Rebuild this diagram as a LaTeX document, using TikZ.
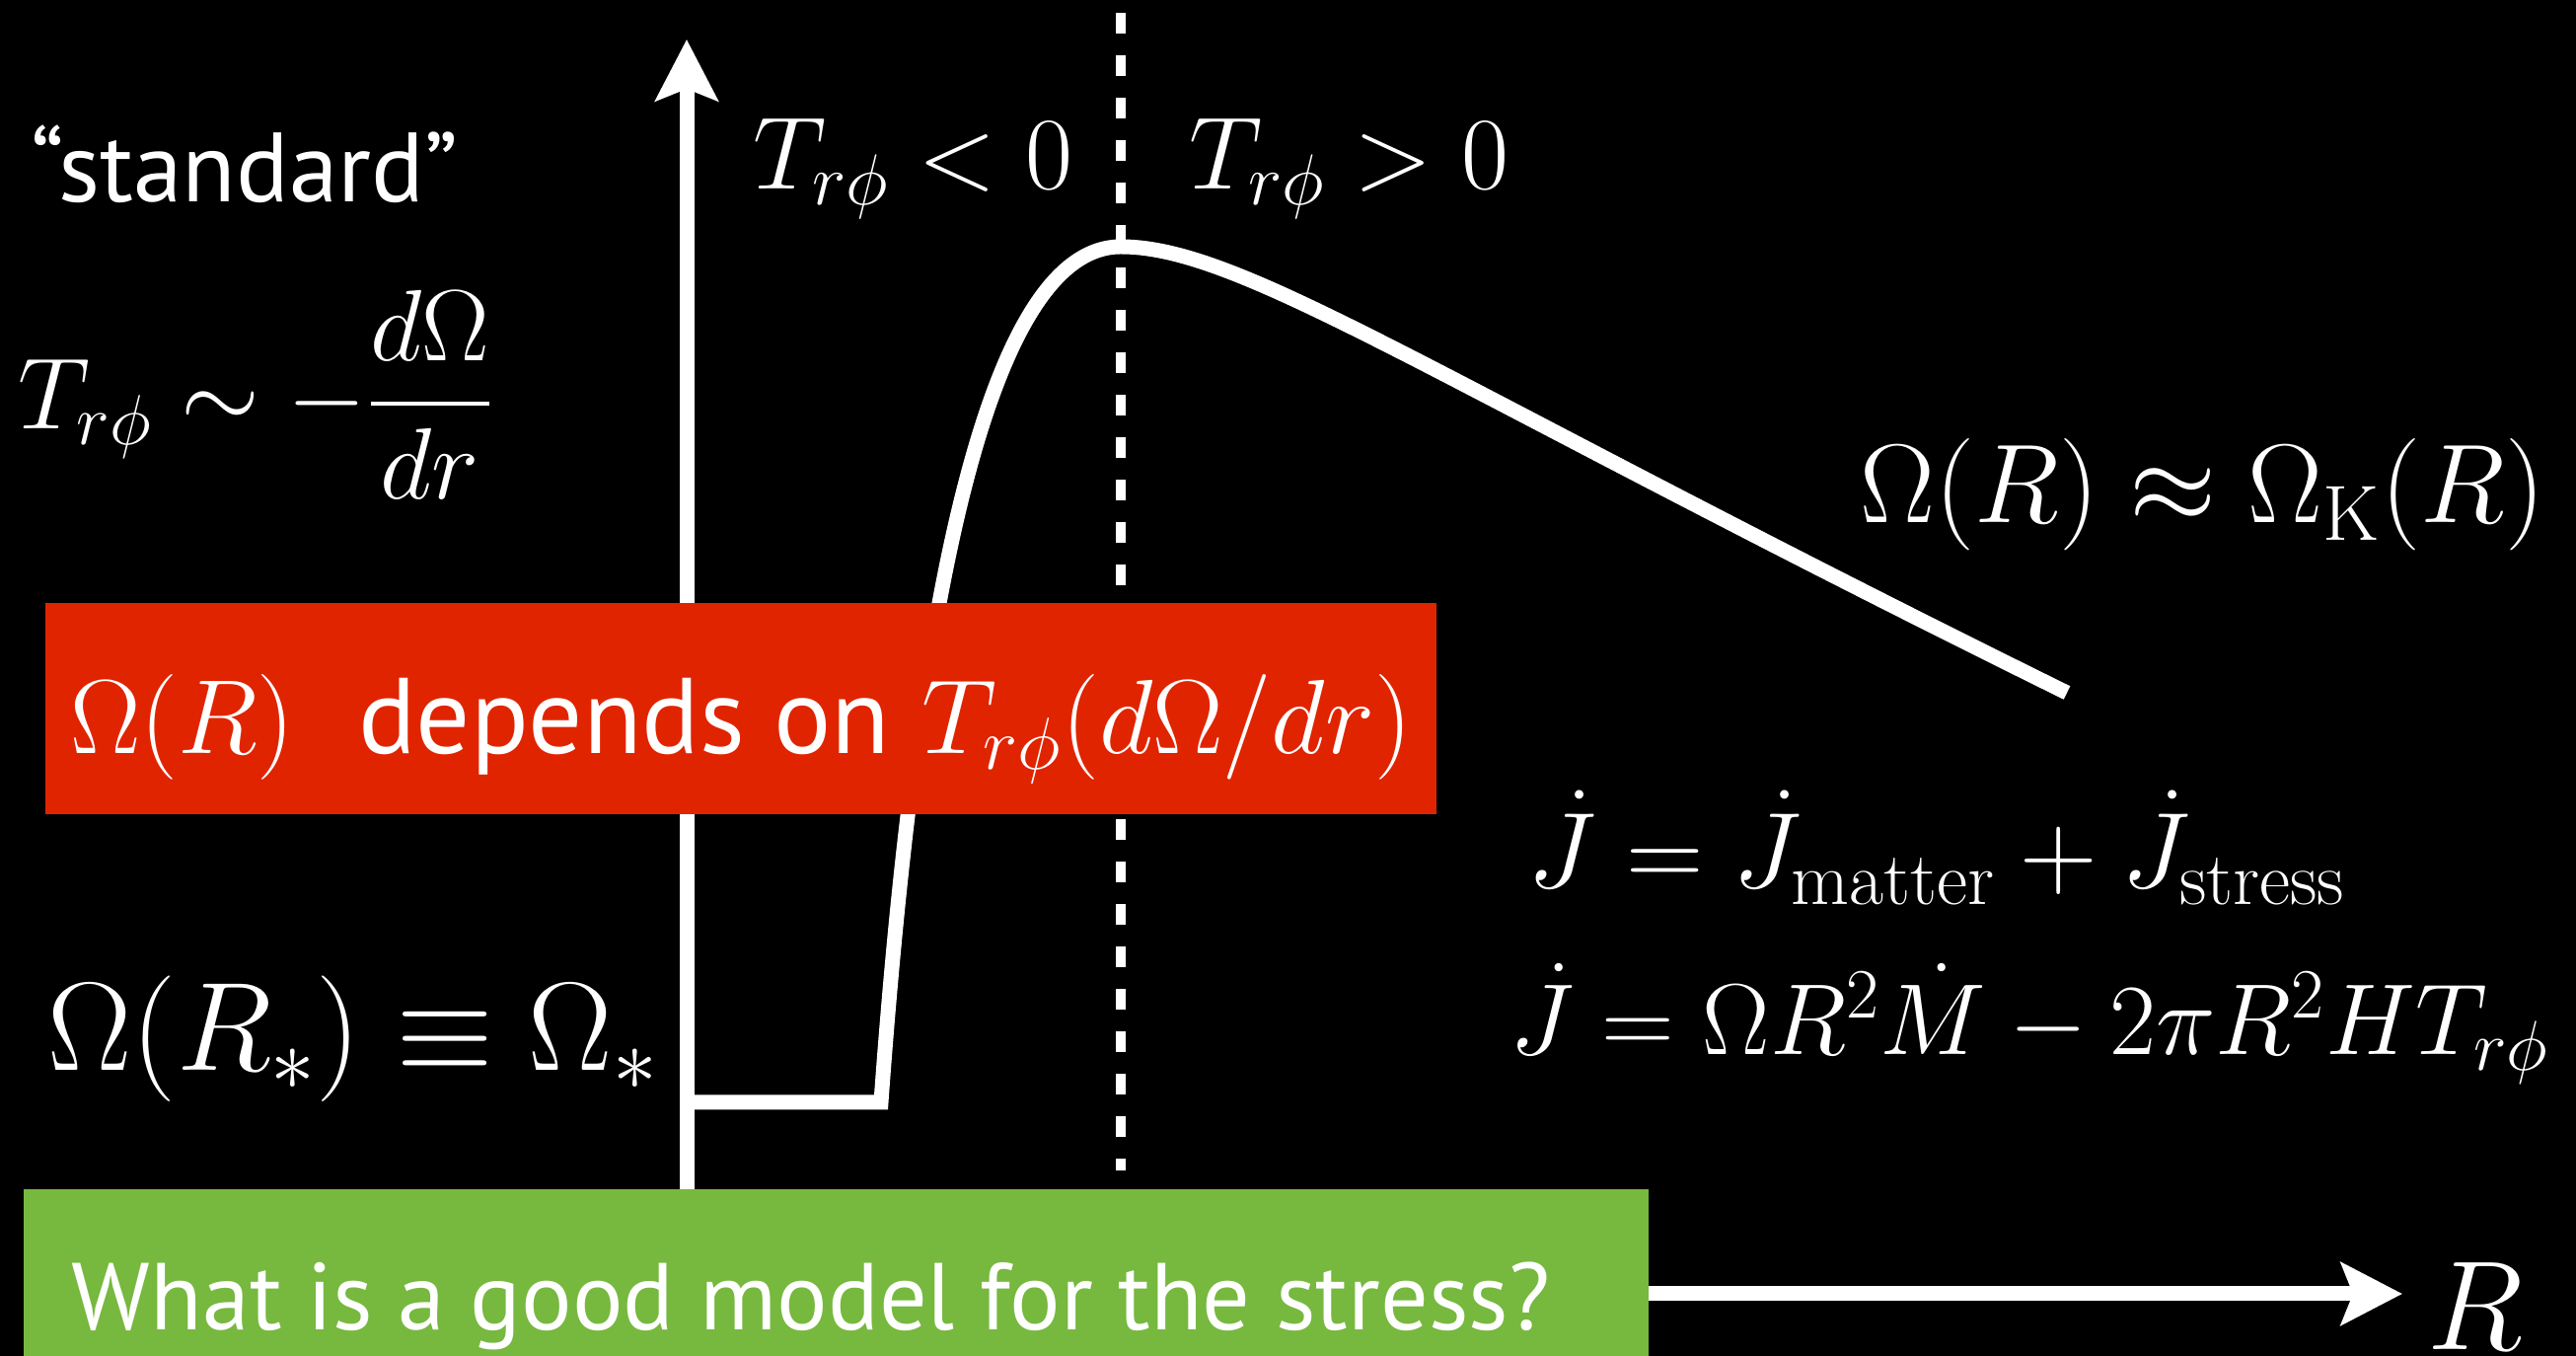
\RequirePackage{fix-cm}
\documentclass[tikz,border=0pt]{standalone}
\usepackage{amsmath,amssymb}
\usepackage{fontspec}
\newfontfamily\slidesans{PT Sans}
\usepackage{tikz}
\usetikzlibrary{arrows.meta,positioning}
\definecolor{slidered}{HTML}{E12400}
\definecolor{slidegreen}{HTML}{77B83F}
\tikzset{
  axisarr/.style={-{Stealth[length=6.2mm, width=6.3mm, inset=1.2mm]}, line width=1.5mm, draw=white},
  divider/.style={draw=white, line width=1mm, dash pattern=on 2.1mm off 2.2mm},
  profile/.style={draw=white, line width=1.5mm},
  mathlbl/.style={text=white, inner sep=0pt, font=\fontsize{29.7}{34}\selectfont},
  sanslbl/.style={text=white, inner sep=0pt, font=\slidesans\fontsize{28.4}{32}\selectfont},
  redbox/.style={rectangle, fill=slidered, text=white, inner sep=0pt, minimum width=14.10cm, minimum height=2.14cm,
    text height=1.2cm, text depth=0.29cm, font=\fontsize{30.4}{36}\selectfont},
  greenbox/.style={rectangle, fill=slidegreen, text=white, inner sep=0pt, minimum width=16.47cm, minimum height=2.26cm,
    text height=0.9cm, text depth=0.3cm, font=\slidesans\fontsize{27.4}{32}\selectfont},
}
\begin{document}
\begin{tikzpicture}
  \clip (0,0) rectangle (26.11,13.74);
  \fill[black] (0,0) rectangle (26.11,13.74);
  % axes
  \coordinate (origin) at (6.96,0.63);
  \coordinate (ytip) at (6.96,13.34);
  \coordinate (xtip) at (24.35,0.63);
  \draw[axisarr] (origin) -- (ytip);
  \draw[axisarr] (origin) -- (xtip);
  % corotation line
  \coordinate (dtop) at (11.36,13.61);
  \coordinate (dbot) at (11.36,1.88);
  \draw[divider] (dtop) -- (dbot);
  % rotation profile
  \coordinate (stepL) at (6.96,2.57);
  \coordinate (stepR) at (8.93,2.57);
  \coordinate (peak) at (11.36,11.24);
  \coordinate (tail) at (20.95,6.72);
  \draw[profile] (stepL) -- (stepR) .. controls (9.25,7.0) and (9.9,11.24) .. (peak)
    .. controls (12.6,11.24) and (14.5,9.9) .. (tail);
  % labels
  \node[mathlbl, anchor=base east] (tneg) at (10.88,11.82) {$T_{r\phi} < 0$};
  \node[mathlbl, anchor=base west] (tpos) at (12.05,11.82) {$T_{r\phi} > 0$};
  \node[sanslbl, anchor=base west] (std) at (0.31,11.69) {“standard”};
  \node[mathlbl, font=\fontsize{29.2}{34}\selectfont, anchor=base west] (tscale) at (0.18,9.39) {$\displaystyle T_{r\phi} \sim -\frac{d\Omega}{dr}$};
  \node[mathlbl, font=\fontsize{32.3}{38}\selectfont, anchor=base east] (kepler) at (25.80,8.44) {$\Omega(R) \approx \Omega_{\mathrm{K}}(R)$};
  \node[mathlbl, font=\fontsize{36.3}{42}\selectfont, anchor=base west] (bc) at (0.48,2.89) {$\Omega(R_*) \equiv \Omega_*$};
  \node[mathlbl, font=\fontsize{31}{36}\selectfont, anchor=base west] (jflux) at (15.48,4.74) {$\dot J = \dot J_{\mathrm{matter}} + \dot J_{\mathrm{stress}}$};
  \node[mathlbl, font=\fontsize{29.1}{34}\selectfont, anchor=base west] (jtorque) at (15.30,3.05) {$\dot J = \Omega R^2 \dot M - 2\pi R^2 H T_{r\phi}$};
  \node[mathlbl, font=\fontsize{36.6}{42}\selectfont, anchor=base west] (rlbl) at (24.60,0.06) {$R$};
  % boxes
  \node[redbox] (depends) at (7.51,6.56) {$\Omega(R)$\ \ {\slidesans\fontsize{31}{36}\selectfont depends on} $T_{r\phi}(d\Omega/dr)$};
  \node[greenbox, anchor=north west] (question) at (0.23,1.70) {\kern-0.5cm What is a good model for the stress?};
\end{tikzpicture}
\end{document}
